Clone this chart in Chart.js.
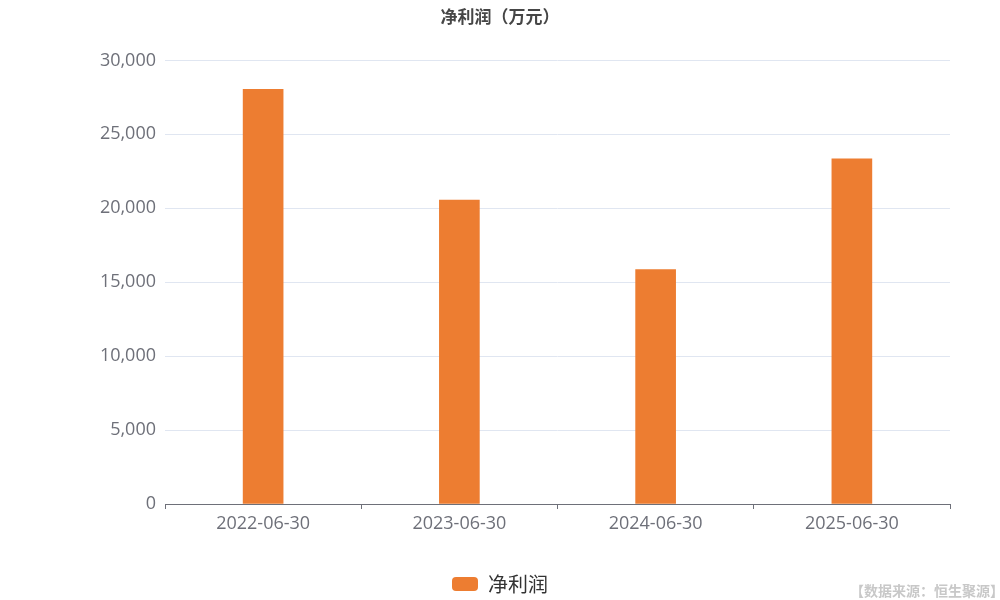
<!DOCTYPE html>
<html>
<head>
<meta charset="utf-8">
<script src="https://cdn.jsdelivr.net/npm/chart.js@4/dist/chart.umd.min.js"></script>
<style>
  html, body { margin: 0; padding: 0; background: #fff; }
  #wrap { width: 1000px; height: 600px; }
</style>
</head>
<body>
<div id="wrap"><canvas id="profitChart" width="1000" height="600"></canvas></div>
<script>
// data
const periods = ['2022-06-30', '2023-06-30', '2024-06-30', '2025-06-30'];
const netProfit = [28040, 20560, 15850, 23350];
const yTicks = [0, 5000, 10000, 15000, 20000, 25000, 30000];

const FONT = "'Open Sans', 'Noto Sans CJK SC', sans-serif";
const CJK = "'Noto Sans CJK SC', 'Open Sans', sans-serif";

// source note in the bottom right corner
const sourceNote = {
    id: 'sourceNote',
    afterDraw(chart) {
        const c = chart.ctx;
        c.save();
        c.font = "bold 14px " + CJK;
        c.fillStyle = '#c8c8c8';
        c.textAlign = 'right';
        c.textBaseline = 'middle';
        c.fillText('【数据来源：恒生聚源】', 1004, 591);
        c.restore();
    }
};

const ctx = document.getElementById('profitChart').getContext('2d');
new Chart(ctx, {
    type: 'bar',
    data: {
        labels: periods,
        datasets: [{
            label: '净利润',
            data: netProfit,
            backgroundColor: '#ed7d31',
            borderWidth: 0,
            barThickness: 40
        }]
    },
    options: {
        responsive: false,
        animation: false,
        // small negative bottom padding pushes the legend a bit lower
        layout: { padding: { top: 0, left: 0, right: 0, bottom: -4 } },
        plugins: {
            title: {
                display: true,
                text: '净利润（万元）',
                color: '#464646',
                font: { family: CJK, size: 17, weight: 'bold' },
                padding: { top: 6, bottom: 34 }
            },
            legend: {
                position: 'bottom',
                labels: {
                    color: '#333333',
                    font: { family: CJK, size: 20 },
                    boxWidth: 26,
                    boxHeight: 14,
                    useBorderRadius: true,
                    borderRadius: 4,
                    padding: 3
                }
            },
            tooltip: { enabled: false }
        },
        scales: {
            x: {
                grid: {
                    offset: true,
                    drawOnChartArea: false,
                    color: '#6e7079',
                    tickLength: 5
                },
                border: { color: '#6e7079' },
                ticks: {
                    color: '#6e7079',
                    font: { family: FONT, size: 18 },
                    padding: 4,
                    maxRotation: 0
                },
                afterFit(scale) { scale.height = 67; }
            },
            y: {
                min: 0,
                max: 30000,
                afterBuildTicks(scale) {
                    scale.ticks = yTicks.map(v => ({ value: v }));
                },
                grid: { color: '#e0e6f1', drawTicks: false },
                border: { display: false },
                ticks: {
                    color: '#6e7079',
                    font: { family: FONT, size: 18 },
                    padding: 9,
                    callback: v => v.toLocaleString('en-US')
                },
                afterFit(scale) { scale.width = 165; }
            },
            // empty right axis keeps 50px free on the right side
            yRight: {
                position: 'right',
                display: true,
                grid: { display: false },
                border: { display: false },
                ticks: { display: false },
                afterFit(scale) { scale.width = 50; }
            }
        }
    },
    plugins: [sourceNote]
});
</script>
</body>
</html>
